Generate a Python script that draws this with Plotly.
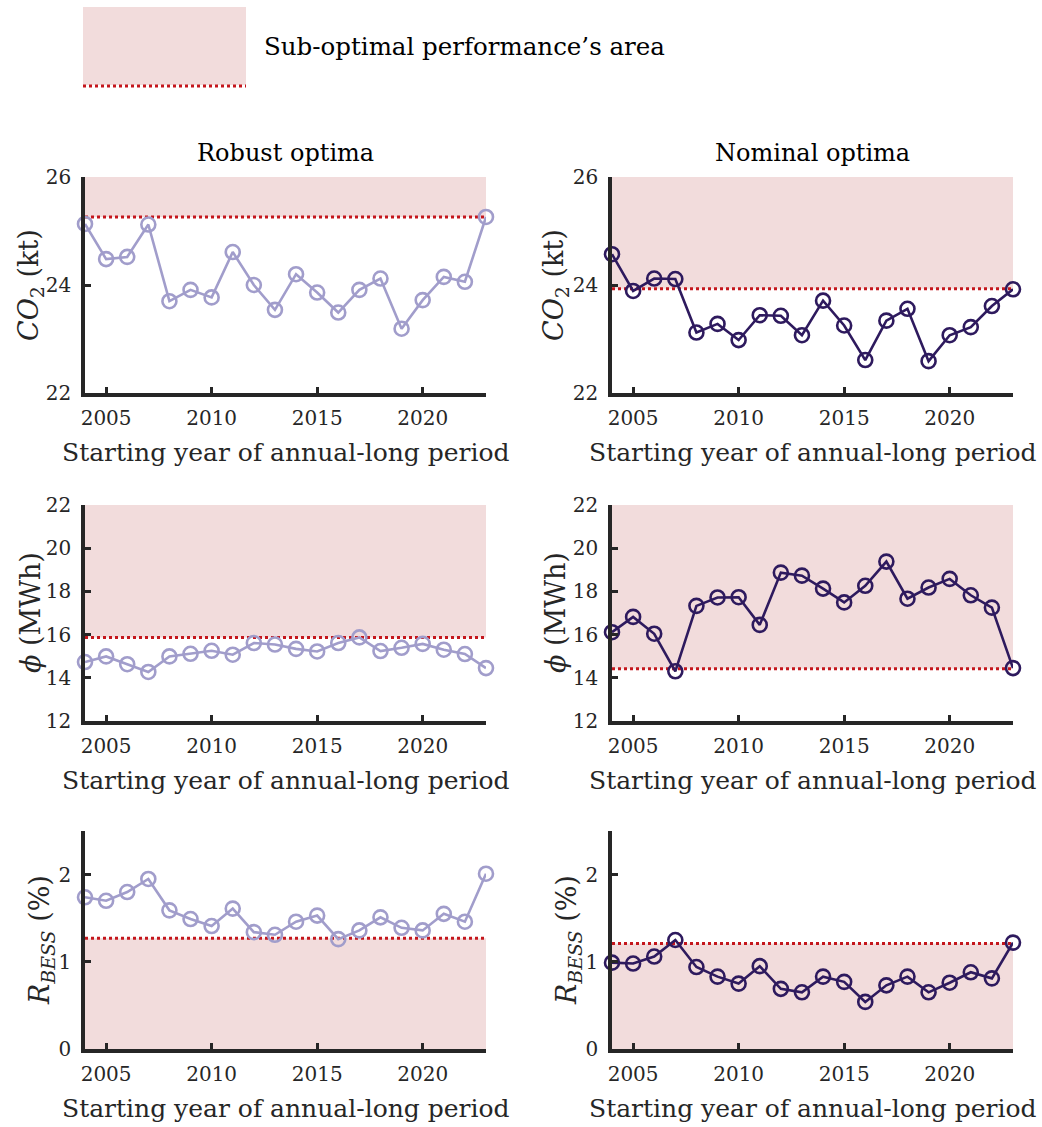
import plotly.graph_objects as go

# ---- data -------------------------------------------------------------
years = list(range(2004, 2024))

robust_co2 = [25.13, 24.48, 24.52, 25.12, 23.70, 23.91, 23.77, 24.61, 24.00, 23.54,
              24.20, 23.86, 23.49, 23.91, 24.12, 23.19, 23.72, 24.15, 24.06, 25.26]
nominal_co2 = [24.57, 23.89, 24.12, 24.11, 23.12, 23.28, 22.98, 23.44, 23.43, 23.07,
               23.71, 23.25, 22.61, 23.34, 23.56, 22.59, 23.07, 23.22, 23.61, 23.92]

robust_phi = [14.73, 14.99, 14.63, 14.27, 14.99, 15.11, 15.25, 15.07, 15.61, 15.54,
              15.34, 15.22, 15.61, 15.87, 15.24, 15.39, 15.57, 15.30, 15.10, 14.45]
nominal_phi = [16.11, 16.82, 16.04, 14.30, 17.33, 17.72, 17.73, 16.45, 18.87, 18.73,
               18.13, 17.49, 18.26, 19.38, 17.66, 18.18, 18.58, 17.82, 17.25, 14.45]

robust_rbess = [1.74, 1.70, 1.80, 1.95, 1.59, 1.49, 1.41, 1.61, 1.34, 1.31,
                1.46, 1.53, 1.26, 1.36, 1.51, 1.39, 1.36, 1.55, 1.46, 2.01]
nominal_rbess = [0.99, 0.98, 1.06, 1.25, 0.94, 0.83, 0.75, 0.95, 0.69, 0.65,
                 0.83, 0.77, 0.54, 0.73, 0.83, 0.65, 0.76, 0.88, 0.81, 1.22]

# sub-optimal thresholds (robust column, nominal column)
co2_limits = [25.26, 23.93]
phi_limits = [15.87, 14.42]
rbess_limits = [1.27, 1.21]

col_titles = ["Robust optima", "Nominal optima"]
x_ticks = [2005, 2010, 2015, 2020]
co2_ticks = [22, 24, 26]
phi_ticks = [12, 14, 16, 18, 20, 22]
rbess_ticks = [0, 1, 2]
x_title = "Starting year of annual-long period"
legend_text = "Sub-optimal performance\u2019s area"

# ---- styling ----------------------------------------------------------
W, H = 1042, 1127
FONT = "DejaVu Serif"
AXIS = "#262626"
ROBUST = "#a19dcb"
NOMINAL = "#2e1a5e"
SHADE = "#f2dcdc"
RED = "#c4161c"

col_px = [(85, 486), (612, 1013)]
row_px = [(177, 393), (505, 721), (831, 1049)]


def px_x(p):
    return p / W


def px_y(p):
    return 1 - p / H


rows = [
    dict(series=(robust_co2, nominal_co2), limits=co2_limits, rng=[22, 26],
         ticks=co2_ticks, shade_above=True,
         ytitle="<i>CO</i><sub>2</sub> (kt)", title_x=(30, 555)),
    dict(series=(robust_phi, nominal_phi), limits=phi_limits, rng=[12, 22],
         ticks=phi_ticks, shade_above=True,
         ytitle="<i>\u03d5</i> (MWh)", title_x=(30, 555)),
    dict(series=(robust_rbess, nominal_rbess), limits=rbess_limits, rng=[0, 2.5],
         ticks=rbess_ticks, shade_above=False,
         ytitle="<i>R</i><sub><i>BESS</i></sub> (%)", title_x=(41, 568)),
]

fig = go.Figure()
shapes = []
annotations = []
layout_axes = {}

idx = 0
for r, row in enumerate(rows):
    for c in range(2):
        idx += 1
        xa = "x" if idx == 1 else f"x{idx}"
        ya = "y" if idx == 1 else f"y{idx}"
        xkey = "xaxis" if idx == 1 else f"xaxis{idx}"
        ykey = "yaxis" if idx == 1 else f"yaxis{idx}"

        color = ROBUST if c == 0 else NOMINAL
        fig.add_trace(go.Scatter(
            x=years, y=row["series"][c], xaxis=xa, yaxis=ya,
            mode="lines+markers", cliponaxis=False, showlegend=False,
            line=dict(color=color, width=2.6),
            marker=dict(symbol="circle-open", size=14, color=color,
                        line=dict(width=2.6, color=color)),
        ))

        lim = row["limits"][c]
        y0, y1 = (lim, row["rng"][1]) if row["shade_above"] else (row["rng"][0], lim)
        shapes.append(dict(type="rect", xref=xa, yref=ya, x0=years[0], x1=years[-1],
                           y0=y0, y1=y1, fillcolor=SHADE, line=dict(width=0),
                           layer="below"))
        shapes.append(dict(type="line", xref=xa, yref=ya, x0=years[0], x1=years[-1],
                           y0=lim, y1=lim, line=dict(color=RED, width=3, dash="dot"),
                           layer="below"))

        common = dict(showline=True, linewidth=3.5, linecolor=AXIS, mirror=False,
                      showgrid=False, zeroline=False, ticks="inside", ticklen=6,
                      tickwidth=3, tickcolor=AXIS, automargin=False,
                      tickfont=dict(family=FONT, size=20, color=AXIS))
        layout_axes[xkey] = dict(common, domain=[px_x(col_px[c][0]), px_x(col_px[c][1])],
                                 anchor=ya, range=[years[0], years[-1]],
                                 tickvals=x_ticks, ticklabelstandoff=4)
        layout_axes[ykey] = dict(common, domain=[px_y(row_px[r][1]), px_y(row_px[r][0])],
                                 anchor=xa, range=row["rng"], tickvals=row["ticks"],
                                 ticklabelstandoff=6)

        # axis titles
        ymid = (row_px[r][0] + row_px[r][1]) / 2
        annotations.append(dict(text=row["ytitle"], xref="paper", yref="paper",
                                x=px_x(row["title_x"][c]), y=px_y(ymid),
                                textangle=-90, showarrow=False,
                                xanchor="center", yanchor="middle",
                                font=dict(family=FONT, size=27, color=AXIS)))
        xmid = (col_px[c][0] + col_px[c][1]) / 2
        annotations.append(dict(text=x_title, xref="paper", yref="paper",
                                x=px_x(xmid), y=px_y(row_px[r][1] + 59),
                                showarrow=False, xanchor="center", yanchor="middle",
                                font=dict(family=FONT, size=25, color=AXIS)))

# column titles
for c in range(2):
    xmid = (col_px[c][0] + col_px[c][1]) / 2
    annotations.append(dict(text=col_titles[c], xref="paper", yref="paper",
                            x=px_x(xmid), y=px_y(153), showarrow=False,
                            xanchor="center", yanchor="middle",
                            font=dict(family=FONT, size=24, color="#000000")))

# legend swatch
shapes.append(dict(type="rect", xref="paper", yref="paper",
                   x0=px_x(83), x1=px_x(246), y0=px_y(85), y1=px_y(7),
                   fillcolor=SHADE, line=dict(width=0)))
shapes.append(dict(type="line", xref="paper", yref="paper",
                   x0=px_x(83), x1=px_x(246), y0=px_y(86), y1=px_y(86),
                   line=dict(color=RED, width=3, dash="dot")))
annotations.append(dict(text=legend_text, xref="paper", yref="paper",
                        x=px_x(262), y=px_y(47), showarrow=False,
                        xanchor="left", yanchor="middle",
                        font=dict(family=FONT, size=24.5, color="#000000")))

fig.update_layout(
    width=W, height=H, margin=dict(l=0, r=0, t=0, b=0, pad=0, autoexpand=False),
    paper_bgcolor="white", plot_bgcolor="white",
    shapes=shapes, annotations=annotations, showlegend=False,
    **layout_axes,
)

fig.write_html("out.html")
